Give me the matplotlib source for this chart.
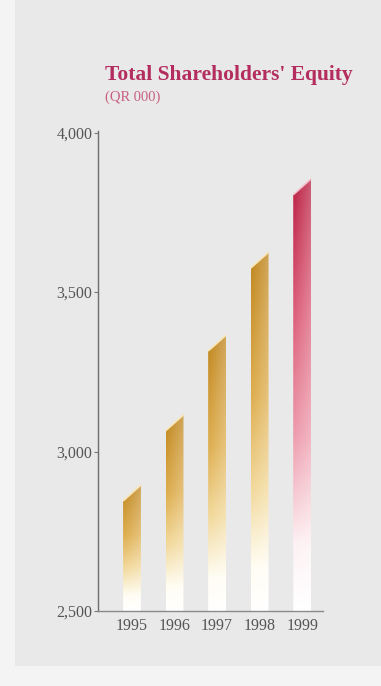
import numpy as np
import matplotlib
matplotlib.use("Agg")
import matplotlib.pyplot as plt
from matplotlib.patches import Polygon, Rectangle
from matplotlib.colors import LinearSegmentedColormap

years = ['1995', '1996', '1997', '1998', '1999']
equity = [2870, 3090, 3340, 3600, 3830]
highlight = [False, False, False, False, True]
y_ticks = [2500, 3000, 3500, 4000]
y_tick_labels = ['2,500', '3,000', '3,500', '4,000']
title = "Total Shareholders' Equity"
subtitle = "(QR 000)"

SERIF = ['Liberation Serif', 'DejaVu Serif']
fig = plt.figure(figsize=(3.81, 6.86), dpi=100, facecolor='#f4f4f4')
fig.patches.append(Rectangle((15/381, 20/686), 1 - 15/381, 1 - 20/686,
                             transform=fig.transFigure, facecolor='#eae9e9',
                             edgecolor='none', zorder=-5))

ax = fig.add_axes([98/381, (686-611)/686, (323-98)/381, (611-131)/686])
ax.set_facecolor('none')
ax.set_zorder(2)
ax.set_xlim(-0.8, 4.49)
ax.set_ylim(2500, 4005)

gold = LinearSegmentedColormap.from_list('gold', [
    (0.0, '#ffffff'), (0.12, '#fffdf4'), (0.35, '#f3dca4'),
    (0.6, '#e2b865'), (1.0, '#c8953a')])
crim = LinearSegmentedColormap.from_list('crim', [
    (0.0, '#ffffff'), (0.15, '#fdf3f5'), (0.4, '#f0a9b8'),
    (0.7, '#e07088'), (1.0, '#c33c5a')])

w = 0.42
slant = 50
for i, (v, hl) in enumerate(zip(equity, highlight)):
    cmap = crim if hl else gold
    x0, x1 = i - w/2, i + w/2
    top = v + slant/2
    ny, nx = 200, 20
    fy = np.linspace(0, 1, ny)[:, None]
    fx = np.linspace(0, 1, nx)[None, :, None]
    rgba = cmap(np.repeat(fy, nx, axis=1))
    rgb = rgba[..., :3]
    rgb = 1 - (1 - rgb) * (1.15 - 0.3 * fx)
    rgba[..., :3] = np.clip(rgb, 0, 1)
    im = ax.imshow(rgba, extent=(x0, x1, 2500, top), origin='lower',
                   aspect='auto', zorder=2, interpolation='bilinear')
    clip = Polygon([(x0, 2500), (x1, 2500), (x1, v + slant/2), (x0, v - slant/2)],
                   closed=True, transform=ax.transData, facecolor='none',
                   edgecolor='none')
    ax.add_patch(clip)
    im.set_clip_path(clip)
    edge = '#f7e6b8' if not hl else '#f3c2cd'
    ax.plot([x0, x1], [v - slant/2, v + slant/2], color=edge, lw=1.2,
            zorder=3, solid_capstyle='butt')

for s in ['top', 'right']:
    ax.spines[s].set_visible(False)
ax.spines['left'].set_color('#6e6e6e')
ax.spines['bottom'].set_color('#8a8a8a')
ax.spines['left'].set_linewidth(1.0)
ax.spines['bottom'].set_linewidth(1.0)

ax.set_yticks(y_ticks)
ax.set_yticklabels(y_tick_labels, family=SERIF, fontsize=11.5, color='#555555')
ax.tick_params(axis='y', direction='out', length=3, width=0.8, color='#777777', pad=1)
ax.set_xticks(range(len(years)))
ax.set_xticklabels(years, family=SERIF, fontsize=11.5, color='#555555')
ax.tick_params(axis='x', length=0, pad=5)

fig.text(105/381, 1 - 80/686, title, family=SERIF, fontweight='bold',
         fontsize=15.5, color='#b32d5e', ha='left', va='baseline')
fig.text(105/381, 1 - 97/686, subtitle, family=SERIF, fontsize=10.5,
         color='#c86080', ha='left', va='center')

fig.savefig('out.png', dpi=100, facecolor=fig.get_facecolor())
